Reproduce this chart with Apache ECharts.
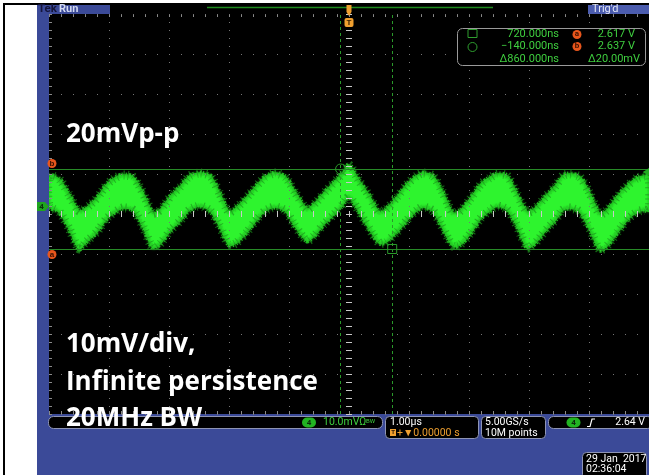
<!DOCTYPE html>
<html><head><meta charset="utf-8">
<script src="https://cdn.jsdelivr.net/npm/echarts@6/dist/echarts.min.js"></script>
<style>html,body{margin:0;padding:0;background:#fff;}#c{width:649px;height:475px;}</style>
</head><body><div id="c"></div>
<script>
// ---- data (time in microseconds, voltage in mV relative to screen centre) ----
const timesUs = [
 -5.00, -4.83, -4.67, -4.50, -4.38, -4.20, -4.03, -3.90,
 -3.77, -3.60, -3.44, -3.27, -3.15, -2.97, -2.80, -2.66,
 -2.48, -2.31, -2.15, -2.00, -1.88, -1.70, -1.53, -1.40,
 -1.23, -1.06, -0.90, -0.70, -0.58, -0.43, -0.26, -0.12,
  0.00,  0.17,  0.33,  0.50,  0.62,  0.80,  0.97,  1.10,
  1.23,  1.40,  1.56,  1.73,  1.85,  2.03,  2.20,  2.34,
  2.47,  2.64,  2.80,  2.97,  3.09,  3.27,  3.44,  3.56,
  3.68,  3.85,  4.01,  4.18,  4.30,  4.48,  4.65,  4.80,
  4.93,  5.00];
const upperMv = [
  9.5, 8.75, 5.0, 0.75, 1.5, 4.0, 7.5, 9.0,
  9.75, 9.25, 5.5, 0.25, 1.0, 4.5, 7.0, 9.5,
  10.25, 9.5, 5.0, 0.5, 1.5, 4.25, 7.25, 9.25,
  10.25, 9.25, 5.5, 1.25, 2.5, 5.0, 7.75, 10.0,
  12.25, 8.25, 4.75, 0.5, 1.25, 4.25, 7.5, 9.25,
  10.25, 9.5, 5.5, 0.25, 0.75, 4.0, 7.5, 9.0,
  10.0, 9.5, 5.0, 0.5, 1.25, 4.25, 7.0, 9.5,
  10.0, 9.25, 5.25, 0.0, 1.0, 4.5, 7.25, 9.0,
  9.5, 9.25];
const lowerMv = [
  2.0, 0.5, -3.5, -8.75, -7.0, -4.5, -1.0, 0.5,
  1.5, 1.0, -3.0, -8.5, -7.5, -4.0, -1.5, 1.0,
  2.0, 0.75, -3.25, -7.75, -7.25, -4.5, -1.25, 0.75,
  1.75, 0.75, -3.0, -6.75, -5.5, -2.75, -0.25, 2.0,
  4.25, 0.5, -3.5, -7.25, -7.0, -4.5, -1.5, 0.5,
  1.75, 0.75, -3.5, -8.0, -7.75, -4.75, -1.0, 0.75,
  2.0, 1.0, -3.0, -8.5, -7.5, -4.25, -1.5, 1.0,
  1.5, 0.5, -3.75, -9.0, -8.0, -4.5, -1.25, 0.5,
  1.0, 0.75];
const cursorTimesUs = [-0.14, 0.72];      // circle cursor, square cursor
const cursorLevelsMv = [-8.75, 11.25];    // cursor a, cursor b
const cursorLevelNames = ['a', 'b'];
const cursorTimeText = ['720.000ns', '\u2212140.000ns', '\u0394860.000ns'];
const cursorVoltText = ['2.617 V', '2.637 V', '\u039420.00mV'];
const noteText = ['20mVp-p', '10mV/div,', 'Infinite persistence', '20MHz BW'];
const channelText = '10.0mV\u03a9';
const timebaseText = ['1.00\u00b5s', '+\u25bc0.00000 s'];
const sampleText = ['5.00GS/s', '10M points'];
const triggerText = '2.64 V';
const dateText = ['29 Jan  2017', '02:36:04'];
const statusText = ['Tek', 'Run', "Trig'd"];

// ---- helpers ----
const GREEN_TXT = '#3fcf3f', ORANGE = '#f0a030', BOXSTROKE = '#8e94b4';
function T(x, y, text, o) {
  o = o || {};
  return {type: 'text', z: o.z || 60, silent: true,
    style: {text: text, x: x, y: y, fill: o.fill || '#fff', font: o.font || '10.5px Roboto',
      align: o.align || 'left', verticalAlign: o.va || 'middle',
      textAlign: o.align || 'left', textVerticalAlign: o.va || 'middle'}};
}
function R(x, y, w, h, fill, o) {
  o = o || {};
  return {type: 'rect', z: o.z || 50, silent: true, shape: {x: x, y: y, width: w, height: h, r: o.r || 0},
    style: {fill: fill, stroke: o.stroke || null, lineWidth: o.lw || 1}};
}
function badge(cx, cy, label) {
  return [R(cx - 7, cy - 5, 14, 10, '#22b422', {r: 5, z: 61}),
          T(cx, cy + 0.5, label, {fill: '#0b2a0b', font: 'bold 8px Roboto', align: 'center', z: 62})];
}

const tickCol = '#8a8a8a';
function xAx(extra) {
  return Object.assign({type: 'value', min: -5, max: 5, interval: 1, gridIndex: 0,
    axisLabel: {show: false}, splitLine: {show: false}}, extra);
}
function yAx(extra) {
  return Object.assign({type: 'value', min: -50, max: 50, interval: 10, gridIndex: 0,
    axisLabel: {show: false}, splitLine: {show: false}}, extra);
}
const edgeTick = {show: true, inside: true, length: 3, lineStyle: {color: tickCol, width: 1}};
const edgeMinor = {show: true, splitNumber: 5, length: 3, lineStyle: {color: tickCol, width: 1}};
const cTick = (inside) => ({show: true, inside: inside, length: 3, lineStyle: {color: '#c8c8c8', width: 1}});
const cMinor = {show: true, splitNumber: 5, length: 3, lineStyle: {color: '#c8c8c8', width: 1}};

const graphics = [];
// white margin + black frame
graphics.push(R(0, 0, 37, 475, '#fff', {z: 1}));
graphics.push(R(0, 0, 649, 5, '#fff', {z: 1}));
graphics.push(R(3, 3, 2, 472, '#000', {z: 2}));
graphics.push(R(3, 3, 646, 2, '#000', {z: 2}));
// top status strip
graphics.push(R(110, 5, 478, 9, '#000', {z: 3}));
graphics.push({type: 'line', z: 4, silent: true, shape: {x1: 207, y1: 7.5, x2: 493, y2: 7.5}, style: {stroke: '#1e8a1e', lineWidth: 1.5}});
graphics.push(R(588, 5, 61, 9, '#4b5cae', {z: 3}));
graphics.push(T(38, 9.5, statusText[0], {fill: '#14143a', font: 'bold 11.5px Roboto'}));
graphics.push(T(59, 9.5, statusText[1], {fill: '#d4dbf2', font: 'bold 11px Roboto'}));
graphics.push(T(592, 9.5, statusText[2], {fill: '#e2e6f6', font: '11px Roboto'}));
// trigger position markers
graphics.push({type: 'polygon', z: 70, silent: true, shape: {points: [[346.5, 5], [351.5, 5], [351.5, 12], [349, 16], [346.5, 12]]}, style: {fill: ORANGE}});
graphics.push(R(344.5, 18, 9, 9, ORANGE, {r: 2, z: 70}));
graphics.push(T(349, 22.8, 'T', {fill: '#3a2000', font: 'bold 8px Roboto', align: 'center', z: 71}));
// channel 4 level marker (left) and trigger level marker (right)
graphics.push({type: 'polygon', z: 70, silent: true, shape: {points: [[37, 202], [45, 202], [49, 206.5], [45, 211], [37, 211]]}, style: {fill: '#1fa51f'}});
graphics.push(T(41.5, 207, '4', {fill: '#0a300a', font: 'bold 8px Roboto', align: 'center', z: 71}));
graphics.push({type: 'polygon', z: 70, silent: true, shape: {points: [[649, 168], [643, 172], [649, 176]]}, style: {fill: '#22aa22'}});
// cursor readout box
graphics.push(R(457.5, 28.5, 188, 37, '#000', {r: 5, stroke: '#9a9a9a', z: 50}));
graphics.push(R(468, 29.5, 9, 8, 'rgba(0,0,0,0)', {stroke: '#2f9f2f', z: 51}));
graphics.push({type: 'circle', z: 51, silent: true, shape: {cx: 472.5, cy: 47, r: 4.5}, style: {fill: 'none', stroke: '#2f9f2f', lineWidth: 1}});
const rowsY = [34.5, 46.5, 59.5];
for (let i = 0; i < 3; i++) {
  graphics.push(T(559, rowsY[i], cursorTimeText[i], {fill: GREEN_TXT, align: 'right', font: '11px Roboto'}));
  graphics.push(T(i < 2 ? 635 : 640, rowsY[i], cursorVoltText[i], {fill: GREEN_TXT, align: 'right', font: '11px Roboto'}));
}
for (let i = 0; i < 2; i++) {
  graphics.push({type: 'circle', z: 52, silent: true, shape: {cx: 577, cy: rowsY[i], r: 4.5}, style: {fill: '#e8561c'}});
  graphics.push(T(577, rowsY[i] - 0.5, cursorLevelNames[i], {fill: '#3a1000', font: 'bold 8px Roboto', align: 'center', z: 53}));
}
// bottom readouts
graphics.push(R(48.5, 416.5, 334, 12, '#000', {r: 5, stroke: BOXSTROKE, z: 50}));
graphics.push(...badge(309, 422.5, '4'));
graphics.push(T(323, 422.8, channelText, {fill: GREEN_TXT}));
graphics.push(T(366, 421.5, 'BW', {fill: GREEN_TXT, font: '6px Roboto'}));
graphics.push(R(385.5, 416.5, 93, 22, '#000', {r: 4, stroke: BOXSTROKE, z: 50}));
graphics.push(T(390, 422.5, timebaseText[0]));
graphics.push(R(390, 429, 6, 7, ORANGE, {z: 61}));
graphics.push(T(393, 432.8, 'T', {fill: '#2a1500', font: 'bold 6px Roboto', align: 'center', z: 62}));
graphics.push(T(397, 433, timebaseText[1], {fill: ORANGE}));
graphics.push(R(481.5, 416.5, 64, 22, '#000', {r: 4, stroke: BOXSTROKE, z: 50}));
graphics.push(T(485, 422.5, sampleText[0]));
graphics.push(T(485, 433, sampleText[1]));
graphics.push(R(548.5, 416.5, 104, 12, '#000', {r: 5, stroke: BOXSTROKE, z: 50}));
graphics.push(...badge(573.5, 422.5, '4'));
graphics.push({type: 'polyline', z: 60, silent: true, shape: {points: [[587, 426.5], [590, 426.5], [592, 419], [595, 419]]}, style: {stroke: '#fff', lineWidth: 1.2, fill: null}});
graphics.push(T(645, 422.8, triggerText, {align: 'right'}));
graphics.push(R(582.5, 452.5, 64, 26, '#000', {r: 4, stroke: BOXSTROKE, z: 50}));
graphics.push(T(586, 459.5, dateText[0]));
graphics.push(T(586, 469.5, dateText[1]));
// annotation texts
const noteY = [134.5, 345, 382.5, 418.5];
for (let i = 0; i < noteText.length; i++) {
  graphics.push(T(66, noteY[i], noteText[i], {fill: '#ffffff', font: 'bold 26px "Open Sans"', z: 90}));
}

const option = {
  animation: false,
  backgroundColor: '#3b4a98',
  grid: {left: 49, top: 14, width: 600, height: 400, show: true, backgroundColor: '#000', borderWidth: 0},
  xAxis: [
    xAx({position: 'bottom', axisLine: {show: false, onZero: false}, axisTick: edgeTick, minorTick: edgeMinor,
         splitLine: {show: true, lineStyle: {color: '#767676', type: [1, 7], width: 1}}, z: 4}),
    xAx({position: 'top', axisLine: {show: false, onZero: false}, axisTick: edgeTick, minorTick: edgeMinor}),
    xAx({position: 'bottom', axisLine: {show: false, onZero: true, onZeroAxisIndex: 0}, axisTick: cTick(true), minorTick: cMinor, z: 4}),
    xAx({position: 'bottom', axisLine: {show: false, onZero: true, onZeroAxisIndex: 0}, axisTick: cTick(false), minorTick: cMinor, z: 4})
  ],
  yAxis: [
    yAx({position: 'left', axisLine: {show: false, onZero: false}, axisTick: edgeTick, minorTick: edgeMinor,
         splitLine: {show: true, lineStyle: {color: '#767676', type: [1, 11], width: 1}}, z: 4}),
    yAx({position: 'left', axisLine: {show: false, onZero: true, onZeroAxisIndex: 0}, axisTick: cTick(true), minorTick: cMinor, z: 4}),
    yAx({position: 'left', axisLine: {show: false, onZero: true, onZeroAxisIndex: 0}, axisTick: cTick(false), minorTick: cMinor, z: 4})
  ],
  series: [{
    type: 'custom', xAxisIndex: 0, yAxisIndex: 0, z: 2, clip: true, silent: true,
    data: [0],
    renderItem: function (params, api) {
      const top = timesUs.map((t, i) => api.coord([t, upperMv[i]]));
      const bot = timesUs.map((t, i) => api.coord([t, lowerMv[i]])).reverse();
      const pts = top.concat(bot);
      return {type: 'group', children: [
        {type: 'polygon', shape: {points: pts, smooth: 0.25},
          style: {fill: '#2ef42e', stroke: '#22c822', lineWidth: 1.5, shadowBlur: 3, shadowColor: '#18a018'}},
        {type: 'polygon', shape: {points: pts, smooth: 0.25},
          style: {fill: null, stroke: 'rgba(40,210,40,0.85)', lineWidth: 5, lineDash: [1, 2, 2, 1, 1, 3]}},
        {type: 'polygon', shape: {points: pts, smooth: 0.25},
          style: {fill: null, stroke: 'rgba(30,150,30,0.7)', lineWidth: 9, lineDash: [1, 4, 1, 6, 1, 3]}}
      ]};
    },
    markLine: {
      silent: true, symbol: ['none', 'none'], animation: false,
      data: [
        ...cursorTimesUs.map(t => ({xAxis: t, lineStyle: {color: '#2a9a2a', type: [3, 3], width: 1}, label: {show: false}})),
        ...cursorLevelsMv.map((v, i) => ({yAxis: v, lineStyle: {color: '#278a27', type: 'solid', width: 1},
          label: {show: true, formatter: cursorLevelNames[i], position: i === 0 ? 'insideStartBottom' : 'insideStartTop',
            distance: [3, 1], color: '#3a1000', fontSize: 8, fontWeight: 'bold', backgroundColor: '#e8561c',
            borderRadius: 5, width: 9, height: 9, lineHeight: 9, align: 'center', padding: 0}}))
      ]
    },
    markPoint: {
      silent: true, animation: false, label: {show: false},
      data: [
        {coord: [cursorTimesUs[0], cursorLevelsMv[1]], symbol: 'circle', symbolSize: 10,
         itemStyle: {color: 'rgba(0,0,0,0)', borderColor: '#2a9a2a', borderWidth: 1}},
        {coord: [cursorTimesUs[1], cursorLevelsMv[0]], symbol: 'rect', symbolSize: 9,
         itemStyle: {color: 'rgba(0,0,0,0)', borderColor: '#2a9a2a', borderWidth: 1}}
      ]
    }
  }],
  graphic: {elements: graphics}
};
const chart = echarts.init(document.getElementById('c'));
chart.setOption(option);
</script></body></html>
